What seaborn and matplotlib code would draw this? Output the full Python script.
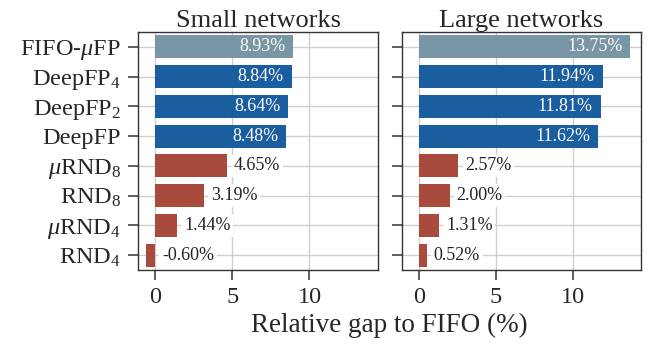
import matplotlib
matplotlib.use("Agg")
import matplotlib.pyplot as plt
import seaborn as sns
import pandas as pd

methods = [r"FIFO-$\mu$FP", r"DeepFP$_4$", r"DeepFP$_2$", "DeepFP",
           r"$\mu$RND$_8$", r"RND$_8$", r"$\mu$RND$_4$", r"RND$_4$"]
small_gap = [8.93, 8.84, 8.64, 8.48, 4.65, 3.19, 1.44, -0.60]
large_gap = [13.75, 11.94, 11.81, 11.62, 2.57, 2.00, 1.31, 0.52]
groups = ["fifo", "deep", "deep", "deep", "rnd", "rnd", "rnd", "rnd"]
panel_titles = ["Small networks", "Large networks"]
x_ticks = [0, 5, 10]
x_label = "Relative gap to FIFO (%)"

group_colors = {"fifo": "#7896A5", "deep": "#1A5EA0", "rnd": "#A84A3C"}

sns.set_style("ticks")
serif = "Liberation Serif"
plt.rcParams["font.family"] = [serif, "DejaVu Serif"]
plt.rcParams["mathtext.fontset"] = "custom"
plt.rcParams["mathtext.rm"] = serif
plt.rcParams["mathtext.it"] = serif + ":italic"
plt.rcParams["mathtext.bf"] = serif + ":bold"

TICK_FS = 17.5
TITLE_FS = 19
LABEL_FS = 19.5
VALUE_FS = 13

fig = plt.figure(figsize=(6.52, 3.45), dpi=100)
W, H = 652, 345
ax_l = fig.add_axes([138 / W, (H - 270) / H, (378 - 138) / W, (270 - 32) / H])
ax_r = fig.add_axes([402 / W, (H - 270) / H, (641 - 402) / W, (270 - 32) / H], sharey=ax_l)

for ax, vals, title in zip([ax_l, ax_r], [small_gap, large_gap], panel_titles):
    df = pd.DataFrame({"method": methods, "gap": vals, "group": groups})
    sns.barplot(data=df, x="gap", y="method", hue="group", palette=group_colors,
                dodge=False, width=0.78, legend=False, ax=ax, zorder=2,
                saturation=1, linewidth=0)
    ax.set_xlim(-1.1, 14.44)
    ax.set_ylim(7.5, -0.5)
    ax.set_xticks(x_ticks)
    ax.grid(True, color="#cfcfcf", linewidth=1.0, zorder=0)
    ax.set_axisbelow(True)
    for s in ax.spines.values():
        s.set_visible(True)
        s.set_color("#333333")
        s.set_linewidth(1.0)
    ax.tick_params(axis="both", length=7.2, width=1.2, color="#444444",
                   labelsize=TICK_FS, pad=5)
    ax.set_xlabel("")
    ax.set_ylabel("")
    ax.set_title(title, fontsize=TITLE_FS, pad=3)
    for i, (v, g) in enumerate(zip(vals, groups)):
        txt = f"{v:.2f}%"
        if g == "rnd":
            ax.text(max(v, 0) + 0.45, i, txt, ha="left", va="center",
                    fontsize=VALUE_FS, color="#222222", zorder=3,
                    bbox=dict(boxstyle="square,pad=0.15", fc="white", ec="none"))
        else:
            ax.text(v - 0.5, i, txt, ha="right", va="center",
                    fontsize=VALUE_FS, color="white", zorder=3)

ax_r.tick_params(axis="y", labelleft=False)
fig.text((138 + 641) / 2 / W, 1 - 325 / H, x_label, ha="center", va="center",
         fontsize=LABEL_FS)

fig.savefig("out.png", dpi=100)
